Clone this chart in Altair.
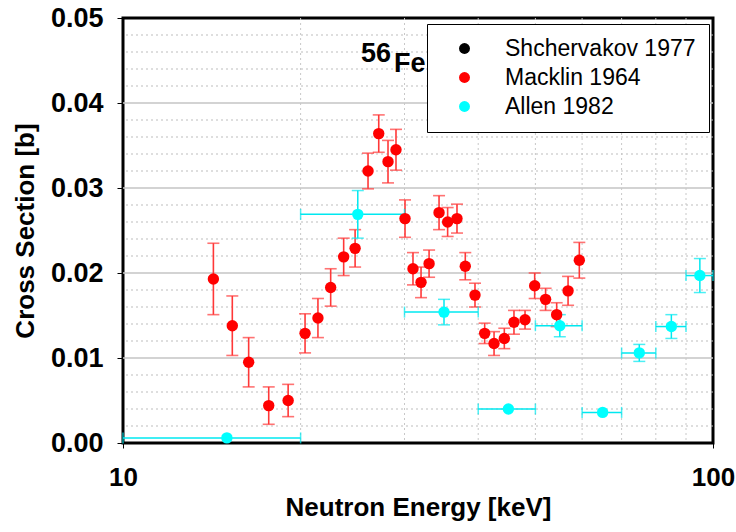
import altair as alt
import pandas as pd

# ---------------- data ----------------
macklin_E = [14.23, 15.32, 16.33, 17.66, 19.05, 20.35, 21.40, 22.49, 23.66, 24.74,
             26.02, 27.13, 28.13, 29.02, 30.06, 31.01, 32.0, 33.02, 34.33, 35.5,
             36.82, 38.03, 39.5, 41.02, 42.55, 44.29, 45.99, 48.02, 49.86, 52.03,
             54.33, 56.8, 59.35]
macklin_y = [0.0193, 0.0138, 0.0095, 0.0044, 0.0050, 0.0129, 0.0147, 0.0183, 0.0219, 0.0229,
             0.0320, 0.0364, 0.0331, 0.0345, 0.0264, 0.0205, 0.0189, 0.0211, 0.0271, 0.0260,
             0.0264, 0.0208, 0.0174, 0.0129, 0.0117, 0.0123, 0.0142, 0.0145, 0.0185, 0.0169,
             0.0151, 0.0179, 0.0215]
macklin_err = [0.0042, 0.0035, 0.0029, 0.0022, 0.0019, 0.0023, 0.0023, 0.0022, 0.0022, 0.0022,
               0.0021, 0.0022, 0.0025, 0.0024, 0.0022, 0.0019, 0.0018, 0.0016, 0.0020, 0.0017,
               0.0017, 0.0016, 0.0014, 0.0012, 0.0014, 0.0012, 0.0014, 0.0011, 0.0015, 0.0013,
               0.0014, 0.0017, 0.0021]

allen_E = [15, 25, 35, 45, 55, 65, 75, 85, 95]
allen_lo = [10, 20, 30, 40, 50, 60, 70, 80, 90]
allen_hi = [20, 30, 40, 50, 60, 70, 80, 90, 100]
allen_y = [0.0006, 0.0269, 0.0154, 0.0040, 0.0138, 0.0036, 0.0106, 0.0137, 0.0197]
allen_err = [0, 0.0028, 0.0015, 0, 0.0013, 0, 0.0010, 0.0014, 0.0020]

series_names = ["Shchervakov 1977", "Macklin 1964", "Allen 1982"]
series_colors = ["#000000", "#ff0000", "#00ffff"]

y_ticks = [0.0, 0.01, 0.02, 0.03, 0.04, 0.05]
y_minor = [0.002, 0.004, 0.006, 0.008, 0.012, 0.014, 0.016, 0.018,
           0.022, 0.024, 0.026, 0.028, 0.032, 0.034, 0.036, 0.038,
           0.042, 0.044, 0.046, 0.048]
y_major = [0.01, 0.02, 0.03, 0.04]
x_ticks = [10, 100]
x_minor = [20, 30, 40, 50, 60, 70, 80, 90]

# ---------------- tables ----------------
mack = pd.DataFrame({"E": macklin_E, "y": macklin_y, "err": macklin_err,
                     "series": "Macklin 1964"})
allen = pd.DataFrame({"E": allen_E, "lo": allen_lo, "hi": allen_hi, "y": allen_y,
                      "err": allen_err, "series": "Allen 1982"})
points = pd.concat([mack[["E", "y", "series"]], allen[["E", "y", "series"]]],
                   ignore_index=True)

FONT = "Liberation Sans"
xscale = alt.Scale(type="log", domain=[10, 100], nice=False)
yscale = alt.Scale(domain=[0, 0.05], nice=False, zero=False)

xaxis = alt.Axis(values=x_ticks, format="d", title="Neutron Energy [keV]",
                 grid=False, domain=False, ticks=True, tickSize=5,
                 tickColor="black", labelPadding=16,
                 labelFont=FONT, labelFontSize=26, labelFontWeight="bold",
                 labelColor="black", labelFlush=False,
                 titleFont=FONT, titleFontSize=26, titleFontWeight="bold",
                 titleColor="black", titleBaseline="alphabetic", titleY=72)
yaxis = alt.Axis(values=y_ticks, format=".2f", title="Cross Section [b]",
                 grid=False, domain=False, ticks=True, tickSize=6,
                 tickColor="black", labelPadding=14,
                 labelFont=FONT, labelFontSize=27, labelFontWeight="bold",
                 labelColor="black", labelFlush=False,
                 titleFont=FONT, titleFontSize=26, titleFontWeight="bold",
                 titleColor="black", titleBaseline="alphabetic", titleX=-90)


def X(field):
    return alt.X(field, scale=xscale, axis=xaxis)


def Y(field):
    return alt.Y(field, scale=yscale, axis=yaxis)


# ---------------- grid ----------------
grid_minor_y = alt.Chart(pd.DataFrame({"v": y_minor})).mark_rule(
    color="#bdbdbd", strokeWidth=1, strokeDash=[2, 3]
).encode(y=Y("v:Q"))

grid_major_y = alt.Chart(pd.DataFrame({"v": y_major})).mark_rule(
    color="#c4c4c4", strokeWidth=1.5
).encode(y=Y("v:Q"))

grid_x = alt.Chart(pd.DataFrame({"v": x_minor})).mark_rule(
    color="#c8c8c8", strokeWidth=1, strokeDash=[2, 3]
).encode(x=X("v:Q"))

# ---------------- Macklin error bars ----------------
red_err_col = "#ff3838"
mack_base = alt.Chart(mack).transform_calculate(
    ylo="datum.y - datum.err", yhi="datum.y + datum.err")
mack_bar = mack_base.mark_rule(color=red_err_col, strokeWidth=1.6).encode(
    x=X("E:Q"), y=Y("ylo:Q"), y2="yhi:Q")
mack_cap_lo = mack_base.mark_tick(color=red_err_col, orient="horizontal",
                                  size=12, thickness=1.6).encode(
    x=X("E:Q"), y=Y("ylo:Q"))
mack_cap_hi = mack_base.mark_tick(color=red_err_col, orient="horizontal",
                                  size=12, thickness=1.6).encode(
    x=X("E:Q"), y=Y("yhi:Q"))

# ---------------- Allen error bars ----------------
cy = "#00e8f0"
allen_base = alt.Chart(allen)
allen_xbar = allen_base.mark_rule(color=cy, strokeWidth=1.5).encode(
    x=X("lo:Q"), x2="hi:Q", y=Y("y:Q"))
allen_xcap_lo = allen_base.mark_tick(color=cy, orient="vertical", size=11,
                                     thickness=1.5).encode(
    x=X("lo:Q"), y=Y("y:Q"))
allen_xcap_hi = allen_base.mark_tick(color=cy, orient="vertical", size=11,
                                     thickness=1.5).encode(
    x=X("hi:Q"), y=Y("y:Q"))
allen_ybase = allen_base.transform_filter("datum.err > 0").transform_calculate(
    ylo="datum.y - datum.err", yhi="datum.y + datum.err")
allen_ybar = allen_ybase.mark_rule(color=cy, strokeWidth=1.5).encode(
    x=X("E:Q"), y=Y("ylo:Q"), y2="yhi:Q")
allen_ycap_lo = allen_ybase.mark_tick(color=cy, orient="horizontal", size=12,
                                      thickness=1.5).encode(
    x=X("E:Q"), y=Y("ylo:Q"))
allen_ycap_hi = allen_ybase.mark_tick(color=cy, orient="horizontal", size=12,
                                      thickness=1.5).encode(
    x=X("E:Q"), y=Y("yhi:Q"))

# ---------------- points ----------------
pts = alt.Chart(points).mark_circle(size=130, opacity=1).encode(
    x=X("E:Q"),
    y=Y("y:Q"),
    color=alt.Color("series:N",
                    scale=alt.Scale(domain=series_names, range=series_colors),
                    legend=alt.Legend(title=None, orient="none", legendX=304, legendY=6,
                                      fillColor="white", strokeColor="black",
                                      padding=13, symbolType="circle", symbolSize=120,
                                      symbolOffset=13, labelOffset=29, labelLimit=400,
                                      labelFont=FONT, labelFontSize=23,
                                      labelColor="black", rowPadding=5,
                                      symbolStrokeWidth=0)),
)

# ---------------- label 56Fe ----------------
t56 = alt.Chart(pd.DataFrame({"t": ["56"]})).mark_text(
    align="left", baseline="alphabetic", font=FONT, fontSize=27,
    fontWeight="bold", color="black").encode(
    x=alt.value(238), y=alt.value(43.5), text="t:N")
tFe = alt.Chart(pd.DataFrame({"t": ["Fe"]})).mark_text(
    align="left", baseline="alphabetic", font=FONT, fontSize=27,
    fontWeight="bold", color="black").encode(
    x=alt.value(271), y=alt.value(53.5), text="t:N")

chart = alt.layer(
    grid_minor_y, grid_major_y, grid_x,
    t56, tFe,
    mack_bar, mack_cap_lo, mack_cap_hi,
    allen_xbar, allen_xcap_lo, allen_xcap_hi,
    allen_ybar, allen_ycap_lo, allen_ycap_hi,
    pts,
).properties(
    width=590, height=425,
    autosize=alt.AutoSizeParams(type="none"),
    padding={"left": 123, "top": 18, "right": 23, "bottom": 89},
    background="white",
).configure_view(stroke="black", strokeWidth=3)

chart.save("out.html", embed_options={"renderer": "svg", "actions": False})
